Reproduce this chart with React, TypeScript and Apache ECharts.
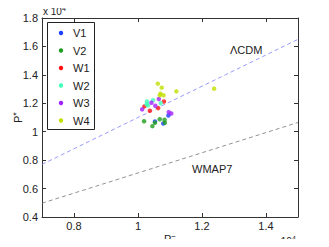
import React, { useEffect, useRef } from "react";
import * as echarts from "echarts";

// values in units of 10^4
const seriesNames = ["V1", "V2", "W1", "W2", "W3", "W4"];
const seriesColors = ["#1e40ff", "#1f9f1f", "#ff1010", "#40ffb8", "#a020ff", "#c2e000"];
const V1 = [[1.095, 1.114], [1.053, 1.072], [1.079, 1.058]];
const V2 = [[1.019, 1.074], [1.045, 1.039], [1.053, 1.063], [1.068, 1.088], [1.083, 1.084], [1.084, 1.063]];
const W1 = [[1.081, 1.213], [1.02, 1.178], [1.037, 1.148], [1.063, 1.166]];
const W2 = [[1.028, 1.213], [1.047, 1.222], [1.027, 1.194], [1.031, 1.185], [1.071, 1.201]];
const W3 = [[1.042, 1.204], [1.065, 1.23], [1.054, 1.183], [1.013, 1.157], [1.096, 1.138], [1.104, 1.128]];
const W4 = [[1.062, 1.338], [1.074, 1.31], [1.07, 1.268], [1.068, 1.256], [1.08, 1.256], [1.12, 1.284], [1.238, 1.303]];
const seriesData = [V1, V2, W1, W2, W3, W4];
const lcdmLine = [[0.7, 0.77], [1.5, 1.65]];
const wmapLine = [[0.7, 0.497], [1.5, 1.065]];
const xTicks = [0.8, 1.0, 1.2, 1.4];
const yTicks = [0.4, 0.6, 0.8, 1.0, 1.2, 1.4, 1.6, 1.8];

const FONT = "Liberation Sans, Arial, sans-serif";
const fmt = (v: number) => String(+Number(v).toFixed(1));

const txt = (text: string, x: number, y: number, size = 11, align = "left", extra: any = {}) => ({
  type: "text",
  x,
  y,
  ...extra,
  style: { text, font: `${size}px ${FONT}`, fill: "#222", align, verticalAlign: "middle" },
  z: 10,
});

// text with a superscript, as one rich text element
const supTxt = (base: string, sup: string, x: number, y: number, size: number, supSize: number, extra: any = {}) => ({
  type: "text",
  x,
  y,
  ...extra,
  style: {
    text: `{n|${base}}{s|${sup}}`,
    align: "left",
    verticalAlign: "middle",
    rich: {
      n: { fontFamily: FONT, fontSize: size, fill: "#222", lineHeight: 12, verticalAlign: "bottom" },
      s: { fontFamily: FONT, fontSize: supSize, fill: "#222", lineHeight: 7, verticalAlign: "top" },
    },
  },
  z: 10,
});

export default function App() {
  const ref = useRef<HTMLDivElement>(null);
  useEffect(() => {
    const chart = echarts.init(ref.current!, null, { renderer: "svg" });
    const axisLine = { show: true, lineStyle: { color: "#333", width: 1 } };
    const tick = (vals: number[]) => ({ show: true, inside: true, length: 4, customValues: vals, lineStyle: { color: "#333" } });
    const xBase = { type: "value", min: 0.7, max: 1.5, splitLine: { show: false }, axisLine };
    const yBase = { type: "value", min: 0.4, max: 1.8, splitLine: { show: false }, axisLine };
    const labelStyle = { fontFamily: FONT, fontSize: 11, color: "#222" };

    const legendTop = 23;
    const legendGap = 17.5;
    const legendEls: any[] = [
      {
        type: "rect",
        shape: { x: 47.5, y: legendTop - 0.5, width: 47, height: 107 },
        style: { fill: "#fff", stroke: "#222", lineWidth: 1 },
        z: 9,
      },
    ];
    seriesNames.forEach((n, i) => {
      const cy = legendTop + 10 + legendGap * i;
      legendEls.push({ type: "circle", shape: { cx: 61, cy, r: 2.2 }, style: { fill: seriesColors[i] }, z: 10 });
      legendEls.push(txt(n, 73, cy));
    });

    chart.setOption({
      animation: false,
      grid: { left: 42, right: 31, top: 18, bottom: 30 },
      xAxis: [
        { ...xBase, position: "bottom", axisTick: tick(xTicks), axisLabel: { ...labelStyle, margin: 3, customValues: xTicks, formatter: fmt } },
        { ...xBase, position: "top", axisTick: tick(xTicks), axisLabel: { show: false } },
      ],
      yAxis: [
        { ...yBase, position: "left", axisTick: tick(yTicks), axisLabel: { ...labelStyle, margin: 4, customValues: yTicks, formatter: fmt } },
        { ...yBase, position: "right", axisTick: tick(yTicks), axisLabel: { show: false } },
      ],
      series: [
        ...seriesNames.map((n, i) => ({
          name: n,
          type: "scatter",
          data: seriesData[i],
          symbolSize: 4.5,
          itemStyle: { color: seriesColors[i] },
          z: 3,
        })),
        {
          type: "line", data: lcdmLine, symbol: "none", silent: true,
          lineStyle: { color: "#7f7fff", width: 0.8, type: [4, 3] }, z: 2,
        },
        {
          type: "line", data: wmapLine, symbol: "none", silent: true,
          lineStyle: { color: "#777", width: 0.8, type: [4, 3] }, z: 2,
        },
      ],
      graphic: [
        ...legendEls,
        txt("ΛCDM", 230, 50),
        txt("WMAP7", 192, 169),
        supTxt("x 10", "4", 43, 10.5, 10, 7),
        supTxt("x 10", "4", 273, 240.5, 10, 7),
        supTxt("P", "−", 164, 238.5, 11, 8),
        supTxt("P", "*", 17, 123, 11, 9, { rotation: Math.PI / 2 }),
      ],
    });
    return () => chart.dispose();
  }, []);
  return <div ref={ref} style={{ width: 329, height: 247, margin: -8 }} />;
}
